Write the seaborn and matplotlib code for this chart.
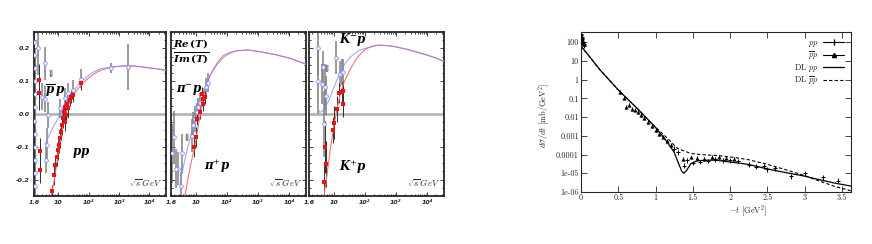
import numpy as np
import pandas as pd
import matplotlib
matplotlib.use("Agg")
import matplotlib.pyplot as plt
import seaborn as sns
from matplotlib.ticker import FixedLocator, FixedFormatter, NullFormatter, LogLocator, MultipleLocator
from matplotlib.lines import Line2D

sns.set_style("ticks")
plt.rcParams['font.family'] = ['DejaVu Sans']
plt.rcParams['mathtext.fontset'] = 'cm'

# ---------------- left figure: Re(T)/Im(T) vs sqrt(s) ----------------
# panel 1: pp (red) and pbar-p (blue)
p1_red_s = [6.0, 7.8, 10, 12.8, 16, 21, 28, 35, 50, 66, 90, 122, 180, 260, 450, 700, 1200, 1900, 3200, 5300, 9000, 14000, 23000, 35000]
p1_red_r = [-0.246, -0.19, -0.12, -0.06, -0.01, 0.025, 0.05, 0.065, 0.082, 0.095, 0.106, 0.116, 0.127, 0.134, 0.140, 0.144, 0.146, 0.147, 0.146, 0.144, 0.141, 0.139, 0.136, 0.133]
p1_blue_s = [3.7, 4.5, 6, 8, 10, 13, 16.5, 21, 27, 40, 57, 85, 122, 180, 260, 450, 700, 1200, 1900, 3200, 5300, 9000, 14000, 23000, 35000]
p1_blue_r = [-0.092, -0.075, -0.05, -0.028, -0.013, 0.008, 0.027, 0.045, 0.063, 0.082, 0.098, 0.112, 0.124, 0.132, 0.139, 0.142, 0.144, 0.146, 0.147, 0.146, 0.144, 0.141, 0.139, 0.136, 0.133]
p1_rpt_s = [6.3, 7.2, 7.8, 8.9, 10, 10.5, 11.3, 12.2, 13.5, 14.5, 15.8, 16.5, 17.3, 18.7, 20, 21.2, 24, 27, 31, 58, 2.5, 2.45, 2.4, 2.35]
p1_rpt_r = [-0.236, -0.185, -0.155, -0.13, -0.109, -0.094, -0.074, -0.054, -0.033, -0.013, 0.007, -0.023, 0.022, -0.003, 0.032, 0.017, 0.043, 0.053, 0.058, 0.093, -0.17, -0.114, 0.103, 0.063]
p1_rpt_e = [0.02, 0.03, 0.03, 0.03, 0.03, 0.025, 0.03, 0.025, 0.03, 0.03, 0.025, 0.03, 0.03, 0.025, 0.02, 0.03, 0.02, 0.02, 0.02, 0.02, 0.04, 0.04, 0.05, 0.05]
p1_bpt_s = [3.7, 2.86, 3.7, 4.7, 4.4, 4.1, 11.3, 16.5, 21, 31, 58, 550, 1900, 1.65, 1.65, 1.7, 1.7, 1.68, 1.72, 1.66, 1.75, 1.7, 1.67, 1.73, 1.69, 2.1]
p1_bpt_r = [0.154, 0.053, 0.046, -0.003, -0.094, -0.14, 0.017, 0.048, 0.063, 0.073, 0.108, 0.141, 0.144, 0.22, 0.18, 0.14, 0.10, 0.06, 0.02, -0.02, -0.06, -0.10, -0.14, -0.18, -0.22, 0.2]
p1_bpt_e = [0.05, 0.04, 0.04, 0.04, 0.05, 0.04, 0.03, 0.03, 0.03, 0.03, 0.03, 0.015, 0.07, 0.06, 0.06, 0.06, 0.07, 0.08, 0.06, 0.08, 0.07, 0.06, 0.07, 0.06, 0.06, 0.08]

# panel 2: pi+ p (red) and pi- p (blue)
p2_red_s = [4.5, 6.5, 9.5, 13.7, 20, 28, 37, 55, 77, 120, 207, 490, 1170, 4000, 10700, 35000]
p2_red_r = [-0.248, -0.165, -0.094, -0.005, 0.076, 0.115, 0.137, 0.162, 0.178, 0.187, 0.193, 0.195, 0.19, 0.18, 0.17, 0.152]
p2_blue_s = [3.1, 4.0, 5.1, 6.5, 8.3, 10.5, 13.7, 17, 22, 30, 47, 70, 99, 150, 207, 490, 1170, 4000, 10700, 35000]
p2_blue_r = [-0.216, -0.16, -0.115, -0.075, -0.035, -0.005, 0.025, 0.055, 0.088, 0.12, 0.149, 0.168, 0.18, 0.188, 0.193, 0.195, 0.19, 0.18, 0.17, 0.152]
p2_rpt_s = [15.5, 17.5, 19.8, 13.7, 10.2, 8.8, 10.8, 16.5]
p2_rpt_r = [0.061, 0.046, 0.051, 0.005, -0.071, -0.101, -0.015, 0.03]
p2_rpt_e = [0.02, 0.02, 0.02, 0.02, 0.03, 0.03, 0.02, 0.02]
p2_bpt_s = [8.3, 9.3, 10.8, 12, 13.7, 17.5, 22, 25, 7.4, 3.5, 2.76, 2.3, 3.36, 2.0, 1.7]
p2_bpt_r = [-0.035, -0.015, 0.005, 0.02, 0.035, 0.05, 0.081, 0.096, -0.066, -0.12, -0.167, -0.167, -0.218, -0.071, -0.12]
p2_bpt_e = [0.04, 0.04, 0.03, 0.03, 0.03, 0.03, 0.03, 0.03, 0.05, 0.06, 0.05, 0.06, 0.04, 0.08, 0.09]

# panel 3: K+ p (red) and K- p (blue)
p3_red_s = [4.9, 6.0, 7.6, 9.7, 12.4, 15.9, 20, 26, 38, 55, 80, 115, 180, 270, 640, 1200, 2800, 9800, 20000, 35000]
p3_red_r = [-0.247, -0.19, -0.113, -0.046, 0.01, 0.058, 0.09, 0.114, 0.145, 0.17, 0.188, 0.2, 0.207, 0.21, 0.208, 0.203, 0.195, 0.18, 0.17, 0.16]
p3_blue_s = [3.2, 3.6, 4.3, 5.2, 6.3, 7.6, 9, 11, 14, 18, 24, 33, 48, 69, 110, 166, 270, 640, 1200, 2800, 9800, 20000, 35000]
p3_blue_r = [0.012, 0.005, 0.008, 0.02, 0.033, 0.05, 0.07, 0.09, 0.114, 0.136, 0.156, 0.172, 0.185, 0.195, 0.201, 0.205, 0.21, 0.208, 0.203, 0.195, 0.18, 0.17, 0.16]
p3_rpt_s = [4.86, 5.6, 5.2, 9.7, 10.5, 12.4, 15.1, 18, 20.4, 19.5]
p3_rpt_r = [-0.208, -0.152, -0.101, -0.049, -0.027, 0.015, 0.064, 0.068, 0.071, 0.03]
p3_rpt_e = [0.06, 0.07, 0.08, 0.04, 0.05, 0.04, 0.03, 0.03, 0.03, 0.04]
p3_bpt_s = [3.2, 3.2, 4.1, 5.2, 5.6, 4.86, 11.8, 15.8, 18, 20.4, 4.4]
p3_bpt_r = [0.2, 0.1, 0.091, 0.081, 0.056, -0.03, 0.172, 0.122, 0.127, 0.127, 0.142]
p3_bpt_e = [0.08, 0.1, 0.06, 0.07, 0.06, 0.1, 0.05, 0.04, 0.04, 0.04, 0.05]

x_ticks = [1.6, 10, 100, 1000, 10000]
x_tick_labels = ["1.6", "10", "10²", "10³", "10⁴"]
y_ticks = [-0.2, -0.1, 0.0, 0.1, 0.2]
y_tick_labels = ["-0.2", "-0.1", "0.0", "0.1", "0.2"]

# ---------------- right figure: dsigma/dt ----------------
dl_pp_t = [0, 0.05, 0.1, 0.25, 0.5, 0.75, 1.0, 1.15, 1.25, 1.3, 1.35, 1.38, 1.42, 1.47, 1.55, 1.65, 1.8, 2.0, 2.24, 2.5, 2.69, 3.0, 3.14, 3.4, 3.64]
dl_pp_v = [60, 35, 20, 3.5, 0.28, 0.03, 0.0028, 5e-4, 1.3e-4, 4e-5, 1.3e-5, 1.0e-5, 1.5e-5, 3.2e-5, 4.5e-5, 5e-5, 5e-5, 4e-5, 3e-5, 1.7e-5, 1.2e-5, 7e-6, 5.1e-6, 3e-6, 2e-6]
dl_pbp_t = [0, 0.05, 0.1, 0.25, 0.5, 0.75, 1.0, 1.05, 1.158, 1.293, 1.473, 1.6, 1.788, 2.0, 2.238, 2.5, 2.69, 3.0, 3.14, 3.4, 3.64]
dl_pbp_v = [60, 35, 20, 3.5, 0.28, 0.03, 0.0028, 1.9e-3, 7.4e-4, 2.1e-4, 1.15e-4, 1.0e-4, 9.1e-5, 7.5e-5, 5.4e-5, 3e-5, 1.8e-5, 7.5e-6, 4.6e-6, 2e-6, 1.1e-6]
pp_t = [0.002, 0.005, 0.008, 0.012, 0.016, 0.02, 0.025, 0.03, 0.035, 0.04, 0.045,
        1.25, 1.3, 1.38, 1.42, 1.5, 1.6, 1.7, 1.8, 1.9, 2.0, 2.1, 2.25, 2.35, 2.45, 2.5, 2.6, 2.82, 3.0, 3.25, 3.45]
pp_v = [280, 230, 190, 160, 140, 120, 105, 90, 80, 70, 62,
        2e-4, 1.3e-4, 2.5e-5, 5e-5, 3.5e-5, 4e-5, 4.5e-5, 5.5e-5, 5e-5, 5e-5, 4.5e-5, 2.8e-5, 2.2e-5, 2.3e-5, 1.6e-5, 1.8e-5, 7e-6, 1e-5, 6e-6, 4e-6]
pbp_t = [0.003, 0.01, 0.02, 0.03, 0.52, 0.57, 0.6, 0.64, 0.68, 0.72, 0.76, 0.8, 0.85, 0.9, 0.95, 1.0, 1.05, 1.1, 1.15, 1.2, 1.37, 1.47, 1.56, 1.65, 1.75, 1.85, 1.95, 2.05]
pbp_v = [250, 170, 120, 95, 0.22, 0.11, 0.035, 0.045, 0.028, 0.025, 0.018, 0.0125, 0.009, 0.0056, 0.0032, 0.002, 0.00126, 9e-4, 5.6e-4, 3.2e-4, 6e-5, 7e-5, 6.5e-5, 6e-5, 7.5e-5, 7.5e-5, 6.5e-5, 6e-5]
r_yticks = [1e2, 1e1, 1, 0.1, 0.01, 0.001, 1e-4, 1e-5, 1e-6]
r_ytick_labels = ["100", "10", "1", "0.1", "0.01", "0.001", "0.0001", "1e-05", "1e-06"]
r_xticks = [0, 0.5, 1, 1.5, 2, 2.5, 3, 3.5]
r_xtick_labels = ["0", "0.5", "1", "1.5", "2", "2.5", "3", "3.5"]

RED = "#ff7070"
BLUE = "#7f8cff"
RPT = "#ee1111"

fig = plt.figure(figsize=(8.72, 2.44), dpi=100)
W, H = 872.0, 244.0
ax1 = fig.add_axes([34 / W, 48 / H, 132 / W, 164 / H])
ax2 = fig.add_axes([171 / W, 48 / H, 135 / W, 164 / H])
ax3 = fig.add_axes([309 / W, 48 / H, 135 / W, 164 / H])


def panel(ax, rs, rr, bs, br, rps, rpr, rpe, bps, bpr, bpe, first):
    ax.set_xscale('log')
    ax.axhline(0, color='#b0b0b0', lw=1.8, zorder=1)
    ax.errorbar(bps, bpr, yerr=bpe, fmt='none', ecolor='#808080', elinewidth=1.1, zorder=2)
    ax.errorbar(rps, rpr, yerr=rpe, fmt='none', ecolor='#303030', elinewidth=0.7, zorder=2)
    sns.lineplot(x=rs, y=rr, ax=ax, color=RED, lw=0.8, sort=False, estimator=None, zorder=3)
    sns.lineplot(x=bs, y=br, ax=ax, color=BLUE, lw=0.8, sort=False, estimator=None, zorder=3, alpha=0.75)
    sns.scatterplot(x=rps, y=rpr, ax=ax, color=RPT, marker='s', s=5, linewidth=0, zorder=5)
    ax.plot(bps, bpr, 'o', ms=2.6, mfc='white', mec=BLUE, mew=0.6, zorder=4)
    ax.set_xlim(1.6, 3.5e4)
    ax.set_ylim(-0.25, 0.25)
    ax.xaxis.set_major_locator(FixedLocator(x_ticks))
    ax.xaxis.set_major_formatter(FixedFormatter(x_tick_labels))
    ax.xaxis.set_minor_locator(LogLocator(base=10, subs=np.arange(2, 10), numticks=20))
    ax.xaxis.set_minor_formatter(NullFormatter())
    ax.yaxis.set_major_locator(FixedLocator(y_ticks))
    ax.yaxis.set_minor_locator(MultipleLocator(0.025))
    if first:
        ax.yaxis.set_major_formatter(FixedFormatter(y_tick_labels))
    else:
        ax.yaxis.set_major_formatter(NullFormatter())
    ax.tick_params(which='both', direction='in', top=True, right=True, width=0.6, pad=3,
                   labelsize=4.5)
    ax.tick_params(which='major', length=3)
    ax.tick_params(which='minor', length=1.5)
    for lab in ax.get_xticklabels() + ax.get_yticklabels():
        lab.set_fontweight('bold')
        lab.set_fontstyle('italic')
    for sp in ax.spines.values():
        sp.set_linewidth(1.3)
    ax.set_xlabel('')
    ax.set_ylabel('')
    ax.text(0.97, 0.04, r'$\sqrt{s}\,GeV$', transform=ax.transAxes, ha='right', va='bottom', fontsize=6.5)


panel(ax1, p1_red_s, p1_red_r, p1_blue_s, p1_blue_r, p1_rpt_s, p1_rpt_r, p1_rpt_e,
      p1_bpt_s, p1_bpt_r, p1_bpt_e, True)
panel(ax2, p2_red_s, p2_red_r, p2_blue_s, p2_blue_r, p2_rpt_s, p2_rpt_r, p2_rpt_e,
      p2_bpt_s, p2_bpt_r, p2_bpt_e, False)
panel(ax3, p3_red_s, p3_red_r, p3_blue_s, p3_blue_r, p3_rpt_s, p3_rpt_r, p3_rpt_e,
      p3_bpt_s, p3_bpt_r, p3_bpt_e, False)


def ftxt(x, y, s, size=8.5, ha='left', color='black'):
    fig.text(x / W, 1 - y / H, s, fontsize=size, ha=ha, va='center', color=color,
             math_fontfamily='dejavuserif')


ftxt(45, 91, r'$\overline{\boldsymbol{p}}\,\boldsymbol{p}$')
ftxt(45, 73, r'$\Downarrow$', size=7, color='#404040')
ftxt(72, 153, r'$\boldsymbol{pp}$')
ftxt(173, 52, r'$\frac{\boldsymbol{Re}\,\boldsymbol{(T)}}{\boldsymbol{Im}\,\boldsymbol{(T)}}$', size=10.5)
ftxt(176, 91, r'$\boldsymbol{\pi}^{-}\boldsymbol{p}$')
ftxt(181, 137, r'$\Downarrow$', size=7, color='#404040')
ftxt(204, 166, r'$\boldsymbol{\pi}^{+}\boldsymbol{p}$')
ftxt(339, 40, r'$\boldsymbol{K}^{-}\boldsymbol{p}$')
ftxt(321, 68, r'$\Downarrow$', size=7, color='#404040')
ftxt(339, 167, r'$\boldsymbol{K}^{+}\boldsymbol{p}$')

# ---------------- right figure ----------------
axr = fig.add_axes([581 / W, 52 / H, 270 / W, 160 / H])
axr.set_yscale('log')
sns.lineplot(x=dl_pp_t, y=dl_pp_v, ax=axr, color='black', lw=0.9, sort=False, estimator=None)
sns.lineplot(x=dl_pbp_t, y=dl_pbp_v, ax=axr, color='black', lw=0.8, sort=False, estimator=None,
             linestyle=(0, (3, 2)))
pp_v_a = np.array(pp_v)
pbp_v_a = np.array(pbp_v)
axr.errorbar(pp_t, pp_v, yerr=[pp_v_a * 0.25, pp_v_a * 0.35], fmt='_', color='black', ms=3.5,
             mew=0.8, elinewidth=0.7, capsize=0)
axr.errorbar(pbp_t, pbp_v, yerr=[pbp_v_a * 0.2, pbp_v_a * 0.25], fmt='none', ecolor='black',
             elinewidth=0.7, capsize=0)
sns.scatterplot(x=pbp_t, y=pbp_v, ax=axr, color='black', marker='^', s=9, linewidth=0, zorder=5)
axr.set_xlim(0, 3.62)
axr.set_ylim(1e-6, 350)
axr.yaxis.set_major_locator(FixedLocator(r_yticks))
axr.yaxis.set_major_formatter(FixedFormatter(r_ytick_labels))
axr.yaxis.set_minor_locator(FixedLocator([]))
axr.xaxis.set_major_locator(FixedLocator(r_xticks))
axr.xaxis.set_major_formatter(FixedFormatter(r_xtick_labels))
axr.tick_params(which='both', direction='in', top=True, right=True, length=4, width=0.6,
                labelsize=5.8, pad=1.5)
for lab in axr.get_xticklabels() + axr.get_yticklabels():
    lab.set_fontfamily('cmr10')
for sp in axr.spines.values():
    sp.set_linewidth(0.8)
axr.set_xlabel(r'$-t$ [GeV$^2$]', fontsize=6, fontfamily='cmr10')
axr.set_ylabel(r'$d\sigma/dt$ [mb/GeV$^2$]', fontsize=6, fontfamily='cmr10')
axr.xaxis.set_label_coords((748 - 581) / 270, -0.075)
axr.yaxis.set_label_coords(-0.108, 0.48)

handles = [
    Line2D([], [], color='black', lw=0.8, marker='|', ms=4),
    Line2D([], [], color='black', lw=0.8, marker='^', ms=3),
    Line2D([], [], color='black', lw=0.9),
    Line2D([], [], color='black', lw=0.8, linestyle=(0, (3, 2))),
]
labels = [r'$pp$', r'$\overline{p}p$', r'DL $pp$', r'DL $\overline{p}p$']
axr.legend(handles, labels, loc='upper right', bbox_to_anchor=(1.0, 1.0), frameon=False,
           markerfirst=False, labelspacing=0.0, handlelength=2.6, handletextpad=0.5,
           borderpad=0.3, prop={'family': 'cmr10', 'size': 6})

fig.savefig('out.png', dpi=100)
